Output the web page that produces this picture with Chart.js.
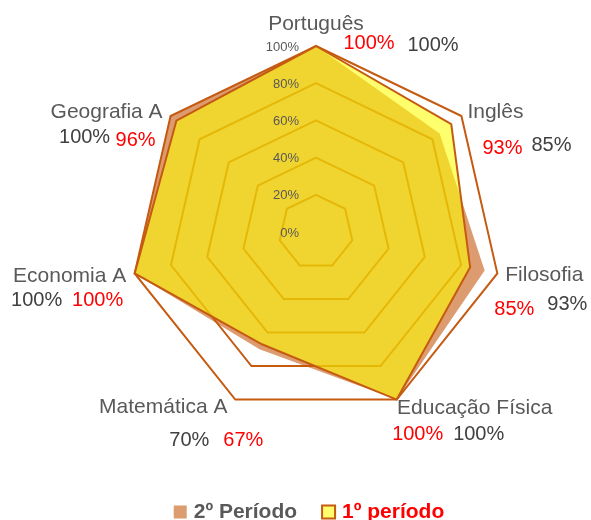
<!DOCTYPE html>
<html>
<head>
<meta charset="utf-8">
<script src="https://cdn.jsdelivr.net/npm/chart.js@4.4.0/dist/chart.umd.min.js"></script>
<style>
  html, body { margin: 0; padding: 0; background: #fff; }
  #wrap { width: 591px; height: 520px; }
</style>
</head>
<body>
<div id="wrap"><canvas id="radar" width="591" height="520"></canvas></div>
<script>
const disciplinas = ["Português", "Inglês", "Filosofia", "Educação Física", "Matemática A", "Economia A", "Geografia A"];
const periodo1 = [100, 93, 85, 100, 67, 100, 96];
const periodo2 = [100, 85, 93, 100, 70, 100, 100];
const tickValues = [0, 20, 40, 60, 80, 100];
const tickLabels = ["0%", "20%", "40%", "60%", "80%", "100%"];
const legendNames = ["2º Período", "1º período"];

// name / 1º value / 2º value, placed relative to the 100% corner of each axis
const labelOffsets = [
  { name: [0, -16], p1: [53, 3], p2: [117, 5] },
  { name: [34, 2], p1: [41, 38], p2: [90, 35] },
  { name: [47, 8], p1: [17, 42], p2: [70, 37] },
  { name: [78, 14], p1: [21, 40], p2: [82, 40] },
  { name: [-72, 13], p1: [8, 46], p2: [-46, 46] },
  { name: [-65, 9], p1: [-37, 33], p2: [-98, 33] },
  { name: [-64, 2], p1: [-35, 30], p2: [-86, 27] },
];

const brown = "#C55A11";
const grayText = "#595959";
const darkText = "#404040";
const red = "#FF0000";
const font = "'Liberation Sans', Arial, sans-serif";

// draws the tick labels, category labels, values and the legend
const labelPlugin = {
  id: "labels",
  afterDraw(chart) {
    const ctx = chart.ctx;
    const r = chart.scales.r;
    ctx.save();

    // tick labels to the left of the vertical axis
    ctx.font = "13px " + font;
    ctx.fillStyle = grayText;
    ctx.textAlign = "right";
    ctx.textBaseline = "middle";
    tickValues.forEach((v, i) => {
      const p = r.getPointPositionForValue(0, v);
      ctx.fillText(tickLabels[i], p.x - 17, p.y + 1);
    });

    ctx.textAlign = "center";
    ctx.textBaseline = "alphabetic";
    disciplinas.forEach((name, i) => {
      const c = r.getPointPositionForValue(i, 100);
      const o = labelOffsets[i];
      ctx.font = "21px " + font;
      ctx.fillStyle = grayText;
      ctx.fillText(name, c.x + o.name[0], c.y + o.name[1]);
      ctx.font = "20px " + font;
      ctx.fillStyle = red;
      ctx.fillText(periodo1[i] + "%", c.x + o.p1[0], c.y + o.p1[1]);
      ctx.fillStyle = darkText;
      ctx.fillText(periodo2[i] + "%", c.x + o.p2[0], c.y + o.p2[1]);
    });

    // legend: 2º first, then 1º
    const ds = chart.data.datasets;
    const items = [
      { text: legendNames[0], ds: ds[1], color: grayText },
      { text: legendNames[1], ds: ds[0], color: red },
    ];
    ctx.font = "bold 21px " + font;
    ctx.textAlign = "left";
    const box = 13;
    const widths = items.map((it) => box + 7 + ctx.measureText(it.text).width);
    const total = widths[0] + 25 + widths[1];
    let x = 309 - total / 2;
    const y = 505.5;
    items.forEach((it, i) => {
      ctx.fillStyle = "#fff";
      ctx.fillRect(x, y, box, box);
      ctx.fillStyle = it.ds.backgroundColor;
      ctx.fillRect(x, y, box, box);
      if (it.ds.borderWidth) {
        ctx.lineWidth = 2;
        ctx.strokeStyle = it.ds.borderColor;
        ctx.strokeRect(x, y, box, box);
      }
      ctx.fillStyle = it.color;
      ctx.fillText(it.text, x + box + 7, y + 12.5);
      x += widths[i] + 25;
    });

    ctx.restore();
  },
};

const ctx = document.getElementById("radar").getContext("2d");
new Chart(ctx, {
  type: "radar",
  data: {
    labels: disciplinas,
    datasets: [
      {
        label: legendNames[1],
        data: periodo1,
        backgroundColor: "rgba(255, 255, 0, 0.57)",
        borderColor: brown,
        borderWidth: 2,
        pointRadius: 0,
        fill: true,
      },
      {
        label: legendNames[0],
        data: periodo2,
        backgroundColor: "rgba(197, 90, 17, 0.6)",
        borderColor: "rgba(0, 0, 0, 0)",
        borderWidth: 0,
        pointRadius: 0,
        fill: true,
      },
    ],
  },
  options: {
    responsive: false,
    animation: false,
    layout: { padding: { left: 130, right: 89, top: 46, bottom: 102 } },
    plugins: {
      legend: { display: false },
      tooltip: { enabled: false },
    },
    scales: {
      r: {
        min: 0,
        max: 100,
        ticks: { stepSize: 20, display: false },
        grid: { color: brown, lineWidth: 2 },
        angleLines: { display: false },
        pointLabels: { display: false },
      },
    },
  },
  plugins: [labelPlugin],
});
</script>
</body>
</html>
